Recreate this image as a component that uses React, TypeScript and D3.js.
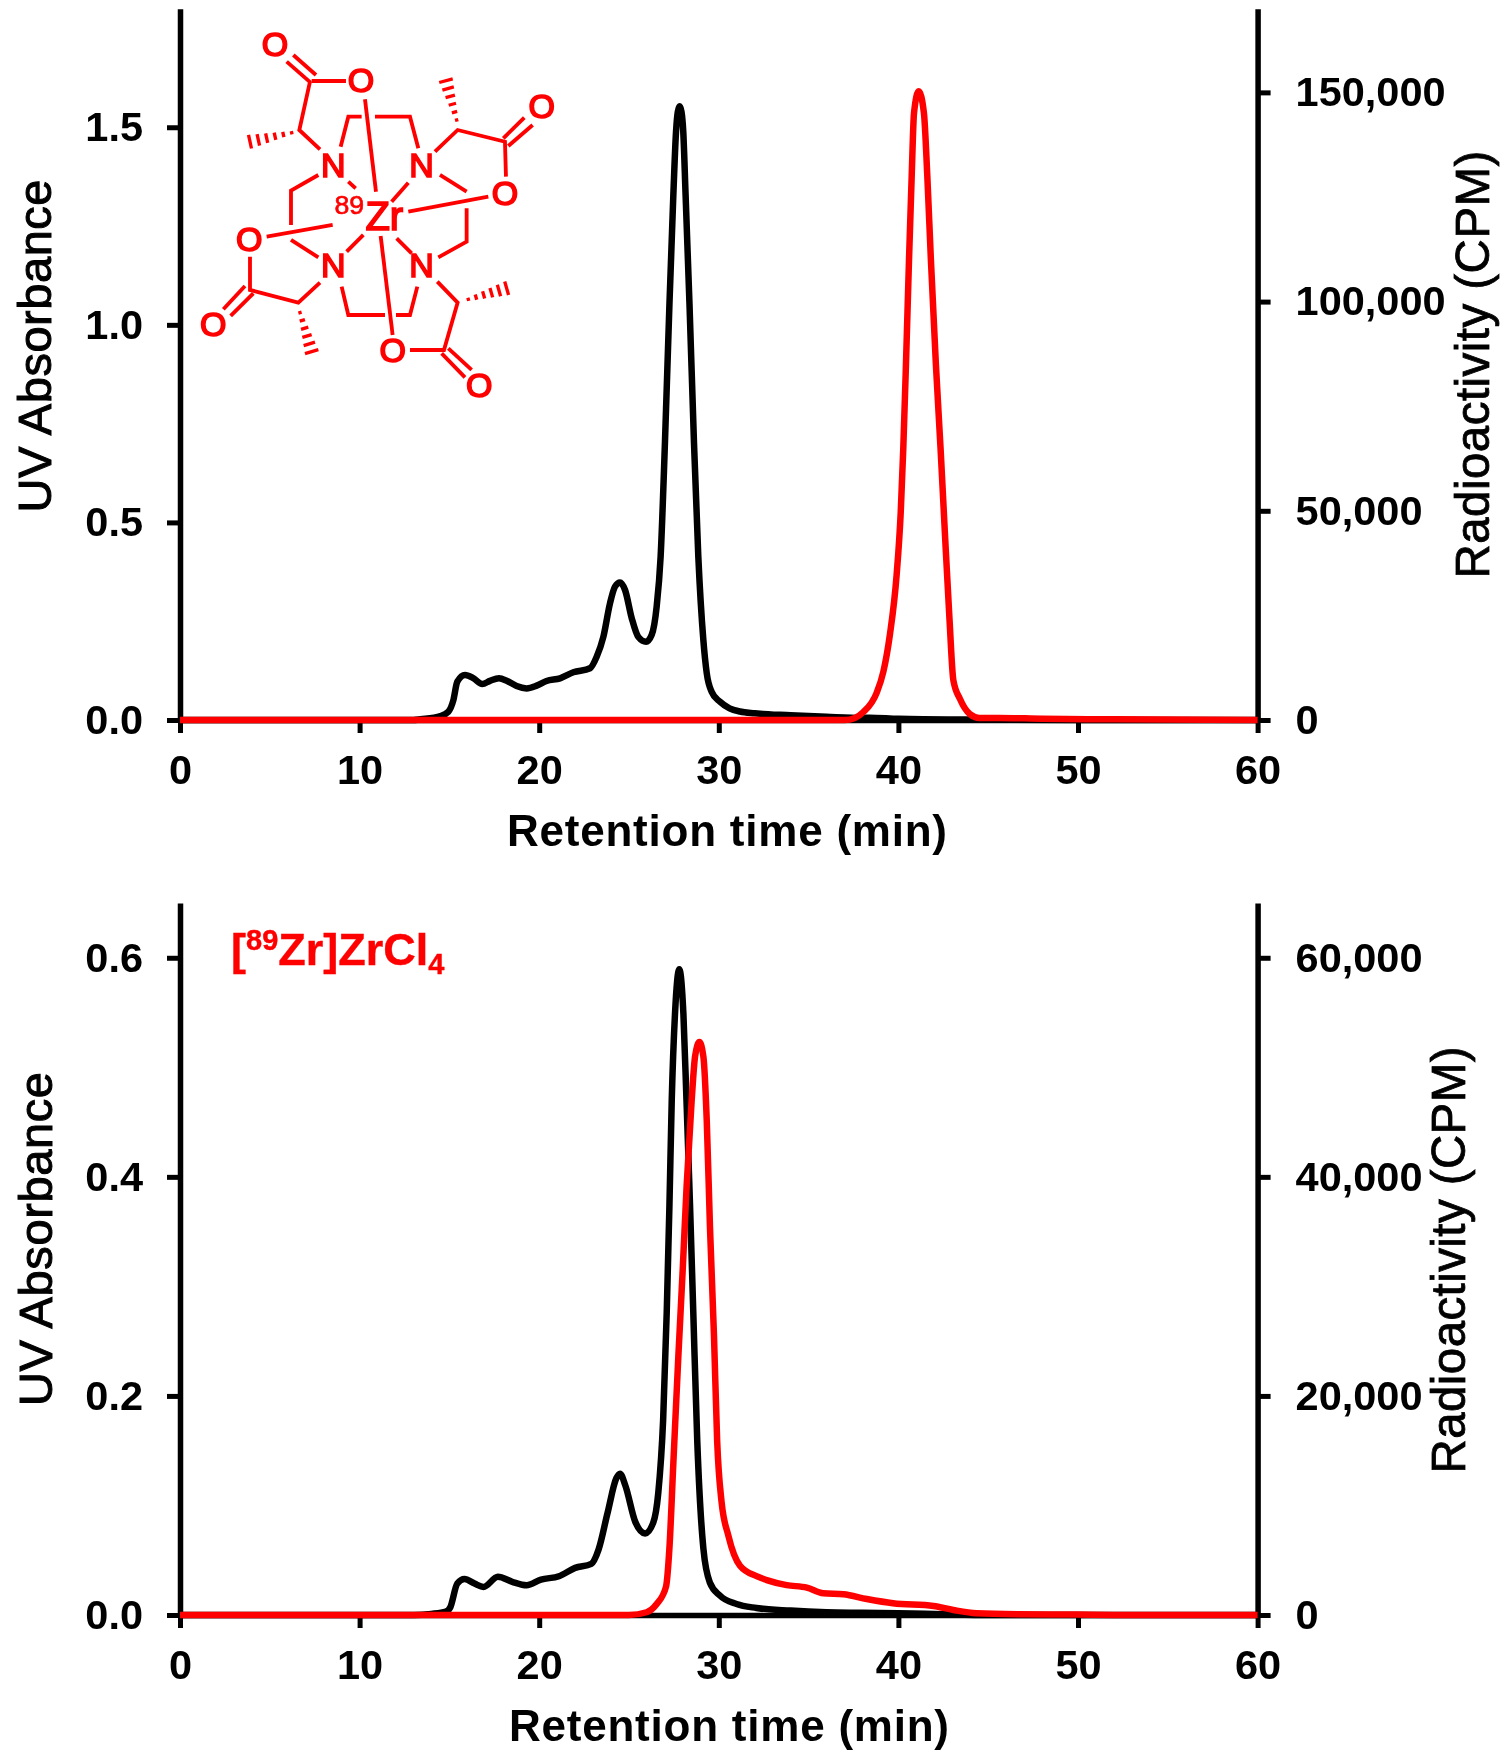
import React, { useEffect, useRef } from "react";
import * as d3 from "d3";

type Pt = [number, number];

const timeTicks = [0, 10, 20, 30, 40, 50, 60];
const topUvTicks = [0, 0.5, 1.0, 1.5];
const topCpmTicks = [0, 50000, 100000, 150000];
const bottomUvTicks = [0, 0.2, 0.4, 0.6];
const bottomCpmTicks = [0, 20000, 40000, 60000];

const topUv: Pt[] = [
  [0, 0], [13, 0], [13.4, 0.002], [14.5, 0.01], [14.94, 0.021], [15.22, 0.05], [15.44, 0.097], [15.87, 0.114],
  [16.33, 0.106], [16.83, 0.091], [17.26, 0.099], [17.76, 0.1055], [18.19, 0.0995], [18.74, 0.086], [19.3, 0.08],
  [19.86, 0.087], [20.41, 0.0987], [21.16, 0.1055], [21.9, 0.1207], [22.83, 0.131], [23.2, 0.16], [23.57, 0.21],
  [23.94, 0.295], [24.22, 0.3375], [24.5, 0.348], [24.78, 0.329], [25.15, 0.258], [25.52, 0.21], [25.95, 0.198],
  [26.26, 0.215], [26.54, 0.287], [26.76, 0.413], [27.0, 0.7], [27.25, 1.05], [27.47, 1.33], [27.62, 1.49],
  [27.72, 1.54], [27.82, 1.553], [27.92, 1.54], [28.02, 1.49], [28.15, 1.33], [28.37, 1.05], [28.62, 0.7],
  [28.86, 0.413], [29.14, 0.2025], [29.33, 0.118], [29.6, 0.0717], [30.06, 0.0463], [30.6, 0.0296],
  [31.18, 0.0215], [32, 0.017], [34, 0.012], [36, 0.008], [38, 0.005], [38.4, 0.006], [40, 0.003], [44, 0.001],
  [50, 0], [60, 0],
];

const topCpm: Pt[] = [
  [0, 0], [37, 0], [37.58, 500], [38.05, 1900], [38.79, 6500], [39.16, 11500], [39.53, 20500], [39.9, 34600],
  [40.13, 49700], [40.27, 64700], [40.42, 84800], [40.59, 109900], [40.74, 130000], [40.87, 145100], [41.13, 150300],
  [41.42, 145100], [41.61, 130000], [41.81, 109900], [42.09, 84800], [42.35, 64700], [42.59, 44600], [42.84, 24500],
  [43.06, 9500], [43.43, 5000], [43.98, 1400], [44.5, 500], [45.6, 500], [48, 300], [52, 150], [60, 0],
];

const bottomUv: Pt[] = [
  [0, 0], [13, 0], [14, 0.001], [14.8, 0.003], [15.04, 0.0067], [15.44, 0.0287], [15.84, 0.0328], [16.4, 0.0287],
  [16.9, 0.0256], [17.7, 0.0349], [18.5, 0.0303], [19.3, 0.0272], [20.1, 0.0323], [21.1, 0.0354], [22, 0.043],
  [22.9, 0.0467], [23.3, 0.0595], [23.8, 0.0928], [24.3, 0.125], [24.5, 0.129], [24.8, 0.118], [25.35, 0.085],
  [25.9, 0.0745], [26.35, 0.0843], [26.63, 0.1115], [26.9, 0.178], [27.1, 0.276], [27.25, 0.373], [27.38, 0.47],
  [27.56, 0.5485], [27.8, 0.5895], [28.03, 0.5485], [28.2, 0.47], [28.4, 0.373], [28.58, 0.276], [28.8, 0.159],
  [29.14, 0.0609], [29.5, 0.0297], [30.06, 0.0178], [30.99, 0.01], [32.1, 0.0064], [34, 0.004], [36, 0.0025],
  [38, 0.002], [40, 0.0015], [42, 0.001], [45, 0], [60, 0],
];

const bottomCpm: Pt[] = [
  [0, 0], [25, 0], [25.98, 250], [26.54, 1000], [27.06, 2580], [27.25, 6090], [27.47, 13880], [27.75, 23700],
  [27.99, 31500], [28.21, 39200], [28.49, 47000], [28.68, 51000], [28.92, 52300], [29.14, 51000], [29.33, 45100],
  [29.51, 35350], [29.73, 25600], [29.91, 15840], [30.15, 10380], [30.53, 7260], [31.18, 4500], [32.1, 3550],
  [32.67, 3190], [33.78, 2730], [34.9, 2500], [35.82, 1980], [36.94, 1890], [38.24, 1460], [39.7, 1070], [41.95, 830],
  [43.06, 460], [44.35, 160], [46.6, 70], [50, 40], [52, 10], [60, 0],
];

const xLeft = 180;
const xRight = 1257.6;

const bonds: number[][][] = [
  [[290, 125], [362, 188]], [[310, 105], [378, 165]], [[365, 183], [468, 183]], [[360, 185], [328, 330], [390, 388]],
  [[452, 380], [475, 290], [515, 290]], [[555, 290], [660, 290], [685, 385]],
  [[385, 465], [303, 512], [303, 615]], [[303, 660], [385, 712]],
  [[750, 465], [830, 515]], [[830, 565], [830, 665], [745, 712]],
  [[455, 800], [475, 885], [585, 885]], [[618, 885], [660, 885], [682, 800]],
  [[525, 238], [558, 515]], [[895, 530], [655, 575]], [[230, 650], [428, 615]], [[608, 945], [572, 648]],
  [[475, 485], [497, 505]], [[655, 488], [605, 545]], [[470, 695], [520, 645]], [[620, 655], [665, 700]],
  [[735, 395], [803, 330], [945, 365], [948, 470]], [[940, 355], [1003, 293]], [[955, 378], [1028, 315]],
  [[180, 710], [180, 810], [325, 848], [390, 788]], [[100, 868], [165, 798]], [[122, 888], [190, 820]],
  [[742, 785], [803, 848], [762, 990], [660, 990]], [[755, 1000], [825, 1072]], [[775, 985], [845, 1050]],
];
const hashes: number[][][] = [
  [[305, 338], [180, 365]], [[800, 300], [768, 182]], [[330, 878], [365, 995]], [[835, 838], [950, 805]],
];
const atoms: [string, number, number][] = [
  ["O", 255, 72], ["O", 513, 180], ["O", 1055, 258], ["O", 945, 517], ["O", 178, 655], ["O", 70, 910], ["O", 608, 990], ["O", 868, 1095],
  ["N", 430, 435], ["N", 695, 435], ["N", 430, 735], ["N", 695, 735],
];

function hashLines(a: number[], b: number[]) {
  const n = 6;
  const dx = b[0] - a[0];
  const dy = b[1] - a[1];
  const len = Math.hypot(dx, dy);
  const out: number[][] = [];
  for (let i = 0; i < n; i++) {
    const f = i / (n - 1);
    const cx = a[0] + dx * f;
    const cy = a[1] + dy * f;
    const h = 5 + 16 * f;
    out.push([cx - (dy / len) * h, cy + (dx / len) * h, cx + (dy / len) * h, cy - (dx / len) * h]);
  }
  return out;
}

const FONT = "'Liberation Sans', Arial, sans-serif";

type PanelProps = {
  y0: number; yTop: number; uvMax: number; cpmMax: number; uvTicks: number[]; cpmTicks: number[];
  uv: Pt[]; cpm: Pt[]; uvFmt: string;
};

function drawPanel(g: d3.Selection<SVGGElement, unknown, null, undefined>, p: PanelProps) {
  const x = d3.scaleLinear().domain([0, 60]).range([xLeft, xRight]);
  const yL = d3.scaleLinear().domain([0, p.uvMax]).range([p.y0, p.yTop]);
  const yR = d3.scaleLinear().domain([0, p.cpmMax]).range([p.y0, p.yTop]);
  const style = (a: d3.Selection<SVGGElement, unknown, null, undefined>) => {
    a.attr("font-family", FONT).attr("font-size", 41.5).attr("font-weight", "bold");
    a.selectAll("path").attr("stroke", "#000").attr("stroke-width", 5.5);
    a.selectAll("line").attr("stroke", "#000").attr("stroke-width", 5);
    a.selectAll("text").attr("fill", "#000");
  };
  g.append("g").attr("transform", `translate(${xLeft},0)`)
    .call(d3.axisLeft(yL).tickValues(p.uvTicks).tickSize(13).tickSizeOuter(0).tickPadding(24).tickFormat(d3.format(p.uvFmt) as any))
    .call(style);
  g.append("g").attr("transform", `translate(${xRight},0)`)
    .call(d3.axisRight(yR).tickValues(p.cpmTicks).tickSize(13).tickSizeOuter(0).tickPadding(25).tickFormat(d3.format(",") as any))
    .call(style);
  g.append("g").attr("transform", `translate(0,${p.y0})`)
    .call(d3.axisBottom(x).tickValues(timeTicks).tickSize(13).tickSizeOuter(0).tickPadding(21.4).tickFormat(d3.format("d") as any))
    .call(style);
  const lineUv = d3.line<Pt>().x((d) => x(d[0])).y((d) => yL(d[1])).curve(d3.curveMonotoneX);
  const lineCpm = d3.line<Pt>().x((d) => x(d[0])).y((d) => yR(d[1])).curve(d3.curveMonotoneX);
  g.append("path").attr("d", lineUv(p.uv)!).attr("fill", "none").attr("stroke", "#000").attr("stroke-width", 6.5).attr("stroke-linejoin", "round");
  g.append("path").attr("d", lineCpm(p.cpm)!).attr("fill", "none").attr("stroke", "#ff0000").attr("stroke-width", 6.5).attr("stroke-linejoin", "round");
}

function Molecule() {
  const path = d3.line();
  return (
    <g transform="translate(190,20) scale(0.3333)" fill="#ff0000" stroke="none" fontFamily={FONT}>
      {bonds.map((b, i) => (
        <path key={i} d={path(b as [number, number][])!} fill="none" stroke="#ff0000" strokeWidth={11.5} strokeLinejoin="miter" />
      ))}
      {hashes.map((h, i) =>
        hashLines(h[0], h[1]).map((l, j) => (
          <line key={`${i}-${j}`} x1={l[0]} y1={l[1]} x2={l[2]} y2={l[3]} stroke="#ff0000" strokeWidth={10} />
        ))
      )}
      {atoms.map(([t, ax, ay], i) => (
        <text key={i} x={ax} y={ay + 37} textAnchor="middle" fontSize={102} stroke="#ff0000" strokeWidth={5}>{t}</text>
      ))}
      <text x={583} y={630} textAnchor="middle" fontSize={120} stroke="#ff0000" strokeWidth={5}>Zr</text>
      <text x={478} y={582} textAnchor="middle" fontSize={80} stroke="#ff0000" strokeWidth={2}>89</text>
    </g>
  );
}

export default function App() {
  const ref = useRef<SVGGElement>(null);
  useEffect(() => {
    const g = d3.select(ref.current!);
    g.selectAll("*").remove();
    drawPanel(g, { y0: 720, yTop: 8.7, uvMax: 1.8, cpmMax: 170000, uvTicks: topUvTicks, cpmTicks: topCpmTicks, uv: topUv, cpm: topCpm, uvFmt: ".1f" });
    drawPanel(g, { y0: 1615, yTop: 903, uvMax: 0.65, cpmMax: 65000, uvTicks: bottomUvTicks, cpmTicks: bottomCpmTicks, uv: bottomUv, cpm: bottomCpm, uvFmt: ".1f" });
  }, []);
  const rot = (tx: number, ty: number) => `translate(${tx},${ty}) rotate(-90)`;
  return (
    <svg width={1510} height={1762} style={{ position: "absolute", left: 0, top: 0, background: "#fff", filter: "blur(0.7px)" }} fontFamily={FONT}>
      <g ref={ref} />
      <Molecule />
      <text x={727} y={846} textAnchor="middle" fontSize={44} fontWeight="bold" textLength={440} lengthAdjust="spacing">Retention time (min)</text>
      <text x={729} y={1741} textAnchor="middle" fontSize={44} fontWeight="bold" textLength={440} lengthAdjust="spacing">Retention time (min)</text>
      <text transform={rot(50.5, 346)} textAnchor="middle" fontSize={47} textLength={333} stroke="#000" strokeWidth={1}>UV Absorbance</text>
      <text transform={rot(52, 1239)} textAnchor="middle" fontSize={47} textLength={334} stroke="#000" strokeWidth={1}>UV Absorbance</text>
      <text transform={rot(1488.5, 364.6)} textAnchor="middle" fontSize={47.5} textLength={428} stroke="#000" strokeWidth={0.8}>Radioactivity (CPM)</text>
      <text transform={rot(1464.5, 1260)} textAnchor="middle" fontSize={47.5} textLength={427} stroke="#000" strokeWidth={0.8}>Radioactivity (CPM)</text>
      <text x={231} y={965} fontSize={45} fontWeight="bold" fill="#ff0000" stroke="#ff0000" strokeWidth={0.4}>
        [<tspan fontSize={29} dy={-15}>89</tspan><tspan dy={15}>Zr]ZrCl</tspan><tspan fontSize={29} dy={9}>4</tspan>
      </text>
    </svg>
  );
}
